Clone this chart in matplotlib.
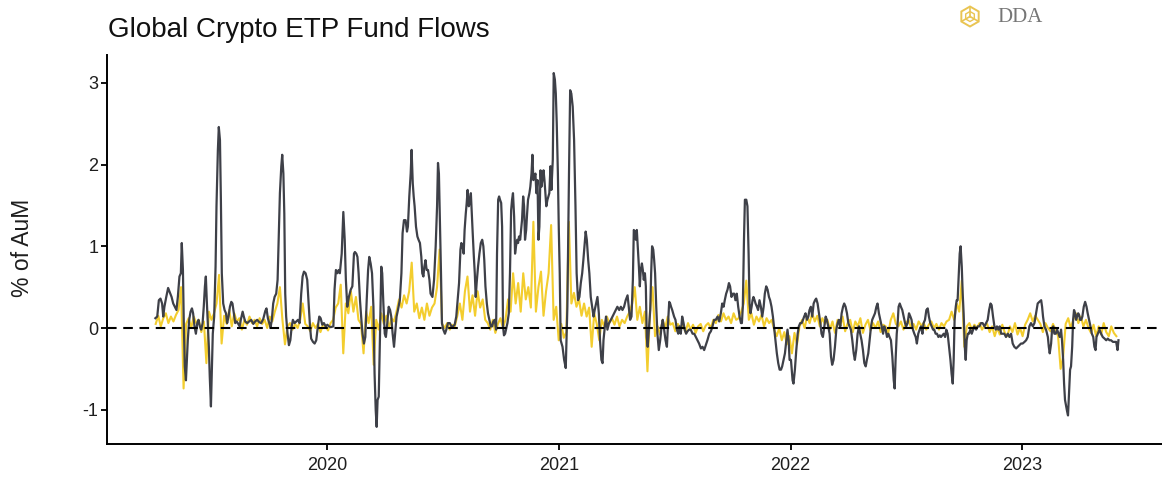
import numpy as np
import pandas as pd
import matplotlib
matplotlib.use("Agg")
import matplotlib.pyplot as plt
import matplotlib.dates as mdates
from matplotlib.patches import RegularPolygon
from matplotlib.lines import Line2D

plt.rcParams['font.family'] = ['Liberation Sans', 'DejaVu Sans']

# ---------------- data ----------------
title = "Global Crypto ETP Fund Flows"
y_label = "% of AuM"
y_ticks = [-1, 0, 1, 2, 3]

# rolling flows (dark line): decimal year, % of AuM
gray_years = [
    2019.256, 2019.264, 2019.271, 2019.278, 2019.285, 2019.290, 2019.295, 2019.303, 2019.311, 2019.318,
    2019.326, 2019.333, 2019.340, 2019.347, 2019.353, 2019.360, 2019.366, 2019.370, 2019.375, 2019.379,
    2019.383, 2019.388, 2019.392, 2019.396, 2019.402, 2019.408, 2019.414, 2019.419, 2019.425, 2019.431,
    2019.437, 2019.442, 2019.448, 2019.454, 2019.460, 2019.465, 2019.470, 2019.474, 2019.478, 2019.483,
    2019.487, 2019.491, 2019.496, 2019.500, 2019.504, 2019.510, 2019.516, 2019.520, 2019.526, 2019.530,
    2019.535, 2019.539, 2019.543, 2019.549, 2019.555, 2019.561, 2019.566, 2019.572, 2019.578, 2019.584,
    2019.589, 2019.595, 2019.601, 2019.607, 2019.612, 2019.620, 2019.625, 2019.633, 2019.638, 2019.644,
    2019.653, 2019.661, 2019.670, 2019.679, 2019.687, 2019.696, 2019.705, 2019.713, 2019.722, 2019.731,
    2019.736, 2019.742, 2019.748, 2019.754, 2019.759, 2019.765, 2019.771, 2019.778, 2019.784, 2019.790,
    2019.794, 2019.800, 2019.804, 2019.809, 2019.813, 2019.817, 2019.821, 2019.827, 2019.833, 2019.839,
    2019.845, 2019.850, 2019.857, 2019.865, 2019.872, 2019.879, 2019.886, 2019.892, 2019.898, 2019.905,
    2019.912, 2019.918, 2019.924, 2019.929, 2019.937, 2019.944, 2019.951, 2019.958, 2019.964, 2019.970,
    2019.977, 2019.984, 2019.992, 2019.999, 2020.006,
    2020.013, 2020.025, 2020.030, 2020.036, 2020.042, 2020.048, 2020.053, 2020.061, 2020.068, 2020.074,
    2020.079, 2020.085, 2020.092, 2020.100, 2020.107, 2020.114, 2020.118, 2020.124, 2020.129, 2020.134,
    2020.140, 2020.146, 2020.151, 2020.157, 2020.163, 2020.169, 2020.175, 2020.180, 2020.186, 2020.192,
    2020.198, 2020.203, 2020.208, 2020.212, 2020.216, 2020.221, 2020.226, 2020.232, 2020.236, 2020.241,
    2020.247, 2020.252, 2020.258, 2020.264, 2020.270, 2020.275, 2020.281, 2020.287, 2020.293, 2020.298,
    2020.304, 2020.312, 2020.319, 2020.324, 2020.330, 2020.337, 2020.343, 2020.347, 2020.353, 2020.359,
    2020.363, 2020.368, 2020.372, 2020.376, 2020.382, 2020.388, 2020.393, 2020.399, 2020.405, 2020.409,
    2020.414, 2020.418, 2020.423, 2020.428, 2020.434, 2020.440, 2020.445, 2020.453, 2020.460, 2020.467,
    2020.473, 2020.477, 2020.481, 2020.485, 2020.490, 2020.494, 2020.500, 2020.507, 2020.513, 2020.520,
    2020.528, 2020.535, 2020.542, 2020.549, 2020.556, 2020.562, 2020.568, 2020.574, 2020.578, 2020.584,
    2020.588, 2020.592, 2020.597, 2020.601, 2020.605, 2020.610, 2020.614, 2020.619, 2020.623, 2020.627,
    2020.632, 2020.636, 2020.640, 2020.644, 2020.650, 2020.656, 2020.662, 2020.668, 2020.673, 2020.677,
    2020.682, 2020.688, 2020.693, 2020.699, 2020.705, 2020.711, 2020.716, 2020.722, 2020.728, 2020.732,
    2020.737, 2020.741, 2020.745, 2020.750, 2020.754, 2020.758, 2020.762, 2020.767, 2020.771, 2020.777,
    2020.783, 2020.788, 2020.793, 2020.797, 2020.801, 2020.806, 2020.810, 2020.814, 2020.819, 2020.823,
    2020.827, 2020.832, 2020.836, 2020.840, 2020.845, 2020.849, 2020.853, 2020.858, 2020.862, 2020.866,
    2020.872, 2020.876, 2020.881, 2020.885, 2020.889, 2020.894, 2020.898, 2020.902, 2020.907, 2020.911,
    2020.915, 2020.920, 2020.924, 2020.928, 2020.933, 2020.937, 2020.941, 2020.945, 2020.950, 2020.954,
    2020.958, 2020.963, 2020.967, 2020.973, 2020.977, 2020.982, 2020.986, 2020.990, 2020.995, 2020.999,
    2021.003,
    2021.007, 2021.015, 2021.022, 2021.029, 2021.036, 2021.043, 2021.048, 2021.053, 2021.059, 2021.065,
    2021.071, 2021.076, 2021.082, 2021.088, 2021.094, 2021.100, 2021.105, 2021.111, 2021.115, 2021.120,
    2021.126, 2021.131, 2021.137, 2021.143, 2021.149, 2021.154, 2021.160, 2021.166, 2021.172, 2021.177,
    2021.183, 2021.188, 2021.192, 2021.198, 2021.203, 2021.209, 2021.216, 2021.224, 2021.231, 2021.238,
    2021.245, 2021.252, 2021.260, 2021.267, 2021.274, 2021.281, 2021.288, 2021.296, 2021.301, 2021.307,
    2021.313, 2021.319, 2021.323, 2021.327, 2021.332, 2021.336, 2021.340, 2021.345, 2021.349, 2021.353,
    2021.358, 2021.362, 2021.366, 2021.371, 2021.375, 2021.379, 2021.383, 2021.388, 2021.394, 2021.398,
    2021.402, 2021.407, 2021.411, 2021.415, 2021.420, 2021.425, 2021.431, 2021.437, 2021.443, 2021.448,
    2021.454, 2021.460, 2021.466, 2021.471, 2021.476, 2021.480, 2021.484, 2021.489, 2021.493, 2021.497,
    2021.503, 2021.509, 2021.515, 2021.520, 2021.526, 2021.532, 2021.538, 2021.543, 2021.549, 2021.555,
    2021.562, 2021.569, 2021.577, 2021.584, 2021.591, 2021.598, 2021.605, 2021.613, 2021.620, 2021.627,
    2021.634, 2021.641, 2021.649, 2021.656, 2021.663, 2021.670, 2021.677, 2021.685, 2021.692, 2021.699,
    2021.705, 2021.711, 2021.716, 2021.722, 2021.728, 2021.734, 2021.739, 2021.745, 2021.751, 2021.757,
    2021.762, 2021.768, 2021.774, 2021.780, 2021.786, 2021.790, 2021.794, 2021.799, 2021.803, 2021.809,
    2021.814, 2021.819, 2021.823, 2021.827, 2021.832, 2021.836, 2021.840, 2021.845, 2021.849, 2021.855,
    2021.860, 2021.866, 2021.872, 2021.878, 2021.884, 2021.889, 2021.895, 2021.901, 2021.907, 2021.912,
    2021.918, 2021.924, 2021.930, 2021.935, 2021.941, 2021.947, 2021.953, 2021.959, 2021.964, 2021.970,
    2021.976, 2021.982, 2021.987, 2021.992, 2021.996,
    2022.002, 2022.009, 2022.013, 2022.019, 2022.025, 2022.031, 2022.036, 2022.042, 2022.048, 2022.054,
    2022.059, 2022.065, 2022.071, 2022.077, 2022.082, 2022.088, 2022.094, 2022.100, 2022.106, 2022.111,
    2022.117, 2022.123, 2022.129, 2022.134, 2022.140, 2022.146, 2022.152, 2022.157, 2022.163, 2022.169,
    2022.175, 2022.180, 2022.186, 2022.192, 2022.198, 2022.204, 2022.209, 2022.215, 2022.221, 2022.227,
    2022.232, 2022.238, 2022.244, 2022.250, 2022.255, 2022.261, 2022.267, 2022.273, 2022.278, 2022.284,
    2022.290, 2022.296, 2022.301, 2022.307, 2022.313, 2022.319, 2022.325, 2022.330, 2022.336, 2022.342,
    2022.348, 2022.353, 2022.359, 2022.365, 2022.371, 2022.376, 2022.382, 2022.388, 2022.394, 2022.400,
    2022.405, 2022.411, 2022.417, 2022.423, 2022.428, 2022.434, 2022.440, 2022.446, 2022.450, 2022.454,
    2022.459, 2022.463, 2022.467, 2022.472, 2022.477, 2022.483, 2022.489, 2022.495, 2022.500, 2022.506,
    2022.512, 2022.518, 2022.523, 2022.529, 2022.535, 2022.541, 2022.546, 2022.552, 2022.558, 2022.564,
    2022.570, 2022.575, 2022.581, 2022.587, 2022.593, 2022.598, 2022.604, 2022.610, 2022.616, 2022.621,
    2022.627, 2022.633, 2022.639, 2022.645, 2022.650, 2022.656, 2022.662, 2022.668, 2022.673, 2022.679,
    2022.685, 2022.691, 2022.696, 2022.701, 2022.705, 2022.709, 2022.714, 2022.718, 2022.722, 2022.727,
    2022.731, 2022.735, 2022.740, 2022.744, 2022.748, 2022.753, 2022.757, 2022.761, 2022.766, 2022.771,
    2022.777, 2022.783, 2022.789, 2022.794, 2022.802, 2022.809, 2022.816, 2022.823, 2022.830, 2022.838,
    2022.845, 2022.852, 2022.858, 2022.864, 2022.869, 2022.875, 2022.881, 2022.887, 2022.892, 2022.898,
    2022.904,
    2022.910, 2022.924, 2022.931, 2022.939, 2022.946, 2022.953, 2022.960, 2022.967, 2022.975, 2022.982,
    2022.989, 2022.996, 2023.003, 2023.011, 2023.018, 2023.025, 2023.032, 2023.039, 2023.047, 2023.054,
    2023.061, 2023.068, 2023.075, 2023.083, 2023.087, 2023.091, 2023.097, 2023.104, 2023.112, 2023.116,
    2023.120, 2023.126, 2023.130, 2023.135, 2023.140, 2023.146, 2023.152, 2023.158, 2023.163, 2023.169,
    2023.173, 2023.178, 2023.182, 2023.186, 2023.191, 2023.195, 2023.199, 2023.204, 2023.208, 2023.212,
    2023.217, 2023.221, 2023.225, 2023.230, 2023.234, 2023.238, 2023.243, 2023.247, 2023.251, 2023.256,
    2023.261, 2023.267, 2023.273, 2023.279, 2023.284, 2023.290, 2023.296, 2023.302, 2023.308, 2023.313,
    2023.318, 2023.322, 2023.328, 2023.335, 2023.342, 2023.349, 2023.357, 2023.364, 2023.371, 2023.378,
    2023.385, 2023.393, 2023.400, 2023.407, 2023.413, 2023.417,
]
gray_values = [
    0.12, 0.14, 0.34, 0.36, 0.30, 0.14, 0.26, 0.38, 0.49, 0.44,
    0.38, 0.30, 0.26, 0.22, 0.38, 0.63, 0.67, 1.04, 0.71, 0.02,
    -0.47, -0.64, -0.39, -0.15, 0.10, 0.20, 0.24, 0.18, 0.02, -0.07,
    0.06, 0.10, 0.02, -0.02, 0.06, 0.26, 0.51, 0.63, 0.34, 0.02,
    -0.23, -0.60, -0.96, -0.51, -0.07, 0.14, 0.75, 1.49, 2.18, 2.46,
    2.30, 1.57, 0.67, 0.30, 0.22, 0.18, 0.06, 0.14, 0.26, 0.32,
    0.30, 0.18, 0.06, 0.08, 0.06, 0.02, 0.10, 0.20, 0.14, 0.08,
    0.06, 0.08, 0.10, 0.05, 0.08, 0.10, 0.07, 0.06, 0.11, 0.21,
    0.24, 0.12, 0.06, 0.01, 0.10, 0.30, 0.38, 0.42, 0.59, 1.24,
    1.65, 1.98, 2.12, 1.89, 1.40, 0.42, 0.14, -0.07, -0.21, -0.15,
    0.02, 0.10, 0.06, 0.08, 0.10, 0.06, 0.42, 0.63, 0.69, 0.67,
    0.59, 0.30, 0.02, -0.13, -0.17, -0.19, -0.15, 0.02, 0.14, 0.12,
    0.04, 0.06, 0.02, 0.04, 0.02,
    0.01, 0.02, 0.47, 0.71, 0.67, 0.71, 0.67, 0.91, 1.42, 1.08,
    0.59, 0.26, 0.38, 0.47, 0.51, 0.91, 0.93, 0.91, 0.87, 0.67,
    0.34, 0.10, -0.07, -0.19, -0.11, 0.34, 0.71, 0.87, 0.79, 0.67,
    0.26, -0.56, -1.01, -1.21, -0.88, -0.84, -0.15, 0.75, 0.67, 0.30,
    -0.07, -0.11, 0.06, 0.26, 0.22, 0.14, -0.07, -0.23, -0.02, 0.14,
    0.22, 0.34, 0.67, 1.16, 1.32, 1.32, 1.18, 1.24, 1.61, 1.89,
    2.18, 1.77, 1.61, 1.49, 1.24, 1.12, 1.08, 1.04, 0.87, 0.67,
    0.63, 0.75, 0.83, 0.71, 0.71, 0.59, 0.42, 0.38, 0.59, 1.00,
    1.49, 2.02, 1.89, 1.36, 0.67, 0.06, -0.02, -0.07, -0.02, 0.06,
    0.06, 0.02, 0.02, 0.04, 0.14, 0.34, 0.55, 0.96, 1.04, 0.98,
    0.91, 1.20, 1.40, 1.53, 1.69, 1.49, 1.53, 1.65, 1.40, 1.16,
    0.87, 0.67, 0.38, 0.55, 0.75, 0.91, 1.04, 1.08, 1.00, 0.83,
    0.51, 0.30, 0.18, 0.10, 0.02, 0.02, 0.08, 0.10, -0.02, 0.91,
    1.57, 1.61, 1.57, 1.53, 1.24, 0.02, -0.09, -0.07, -0.02, 0.06,
    0.18, 0.67, 1.44, 1.57, 1.65, 1.36, 0.91, 1.00, 1.08, 1.04,
    1.12, 1.08, 1.20, 1.32, 1.61, 1.49, 1.08, 1.20, 1.40, 1.57,
    1.65, 1.73, 1.89, 2.12, 1.81, 1.85, 1.89, 1.65, 1.81, 1.08,
    1.24, 1.93, 1.73, 1.81, 1.93, 1.81, 1.65, 1.49, 1.57, 1.61,
    1.65, 1.98, 1.69, 2.06, 3.12, 3.04, 2.87, 2.51, 1.89, 1.20,
    0.67,
    -0.15, -0.23, -0.39, -0.49, 0.26, 1.89, 2.91, 2.87, 2.71, 2.30,
    1.49, 0.67, 0.34, 0.38, 0.55, 0.67, 0.83, 1.04, 1.18, 1.08,
    0.83, 0.67, 0.38, 0.26, 0.14, 0.22, 0.30, 0.38, 0.18, -0.15,
    -0.39, -0.43, -0.15, 0.02, 0.14, -0.02, 0.06, 0.10, 0.14, 0.18,
    0.22, 0.26, 0.22, 0.26, 0.22, 0.26, 0.34, 0.40, 0.26, 0.10,
    0.14, 0.59, 1.20, 1.18, 1.08, 1.20, 1.00, 0.75, 0.51, 0.71,
    0.79, 0.71, 0.59, 0.67, 0.51, -0.11, -0.23, -0.02, 0.22, 0.67,
    1.00, 0.96, 0.83, 0.67, 0.26, -0.07, -0.27, -0.15, 0.02, 0.10,
    -0.02, -0.15, -0.23, 0.06, 0.32, 0.30, 0.26, 0.22, 0.18, 0.14,
    0.10, -0.02, -0.07, 0.02, -0.07, 0.14, 0.06, -0.02, -0.07, -0.04,
    -0.02, -0.02, -0.07, -0.07, -0.11, -0.15, -0.19, -0.25, -0.23, -0.27,
    -0.21, -0.15, -0.07, -0.04, 0.02, 0.10, 0.10, 0.14, 0.08, 0.18,
    0.30, 0.26, 0.34, 0.42, 0.47, 0.55, 0.51, 0.38, 0.42, 0.42,
    0.34, 0.42, 0.26, 0.14, 0.06, 0.06, 0.26, 1.08, 1.57, 1.57,
    1.49, 0.91, 0.30, 0.18, 0.26, 0.34, 0.38, 0.34, 0.30, 0.26,
    0.22, 0.34, 0.26, 0.14, 0.26, 0.42, 0.51, 0.47, 0.38, 0.34,
    0.26, 0.14, -0.02, -0.15, -0.31, -0.43, -0.51, -0.51, -0.47, -0.39,
    -0.31, -0.15, -0.02, -0.15, -0.39,
    -0.39, -0.64, -0.68, -0.51, -0.27, -0.07, 0.02, 0.06, 0.06, 0.10,
    0.14, 0.18, 0.10, 0.14, 0.22, 0.26, 0.14, 0.30, 0.34, 0.36,
    0.30, 0.18, 0.06, -0.07, -0.11, 0.02, 0.14, 0.10, 0.02, -0.07,
    -0.35, -0.45, -0.39, -0.23, -0.02, 0.06, 0.10, 0.02, 0.18, 0.26,
    0.30, 0.26, 0.18, 0.06, 0.02, -0.02, -0.15, -0.31, -0.39, -0.27,
    -0.07, 0.02, -0.07, -0.15, -0.27, -0.43, -0.47, -0.39, -0.31, -0.15,
    0.02, 0.10, 0.14, 0.18, 0.26, 0.30, 0.18, 0.10, 0.02, -0.07,
    0.02, -0.02, -0.11, -0.07, -0.11, -0.15, -0.35, -0.64, -0.74, -0.39,
    -0.07, 0.06, 0.26, 0.30, 0.26, 0.22, 0.14, 0.06, 0.02, 0.06,
    0.18, 0.14, 0.10, -0.02, -0.07, -0.11, -0.19, -0.07, -0.02, 0.02,
    -0.07, 0.06, 0.10, 0.22, 0.24, 0.14, 0.06, 0.02, -0.02, -0.02,
    -0.07, -0.07, -0.11, -0.09, -0.11, -0.09, -0.07, -0.11, -0.02, -0.07,
    -0.23, -0.39, -0.56, -0.68, -0.39, 0.10, 0.26, 0.34, 0.34, 0.67,
    0.91, 1.00, 0.75, 0.42, 0.18, -0.23, -0.39, -0.15, -0.07, -0.07,
    -0.02, -0.07, -0.02, 0.02, -0.02, 0.02, 0.02, 0.06, 0.06, 0.02,
    0.06, 0.10, 0.22, 0.30, 0.28, 0.14, 0.02, -0.02, 0.02, -0.02,
    0.02,
    -0.07, -0.07, -0.11, -0.07, -0.11, -0.07, -0.19, -0.23, -0.25, -0.23,
    -0.21, -0.19, -0.19, -0.17, -0.15, -0.11, 0.02, 0.06, 0.02, 0.06,
    0.18, 0.30, 0.32, 0.34, 0.26, 0.14, 0.02, -0.02, -0.11, -0.23,
    -0.31, -0.19, -0.02, 0.02, -0.07, -0.07, -0.02, -0.07, -0.11, -0.02,
    -0.15, -0.39, -0.68, -0.88, -0.96, -1.02, -1.07, -0.76, -0.51, -0.47,
    -0.23, 0.10, 0.22, 0.18, 0.10, 0.14, 0.18, 0.16, 0.10, 0.10,
    0.14, 0.26, 0.32, 0.26, 0.18, 0.10, 0.02, -0.07, -0.11, -0.23,
    -0.27, -0.11, -0.07, -0.02, -0.07, -0.11, -0.13, -0.15, -0.13, -0.15,
    -0.15, -0.17, -0.17, -0.17, -0.27, -0.15,
]

# daily flows (yellow), one reading every 4 days from the first date
yellow_start = "2019-04-05"
yellow_step = "4D"
yellow_values = [
    0.05, 0.15, 0.02, 0.12, 0.18, 0.06, 0.14, 0.08, 0.16, 0.22,
    0.50, -0.74, 0.05, 0.12, 0.00, 0.14, 0.06, 0.10, -0.05, 0.08,
    -0.43, 0.20, 0.10, 0.18, 0.30, 0.65, -0.19, 0.15, 0.05, 0.22,
    0.02, 0.18, 0.08, 0.12, -0.02, 0.10, 0.04, 0.14, 0.06, 0.10,
    0.02, 0.12, 0.05, 0.10, 0.00, 0.14, 0.08, 0.20, 0.30, 0.50,
    0.10, -0.20, 0.02, 0.06, -0.02, 0.05, 0.00, 0.10, 0.30, 0.05,
    0.02, -0.04, 0.06, 0.00, 0.05, -0.05, 0.04, 0.02, -0.03, 0.06,
    0.10, 0.25, 0.30, 0.53, -0.31, 0.30, 0.18, 0.45, 0.20, 0.38,
    0.10, 0.05, -0.31, 0.20, 0.06, 0.26, -0.45, 0.10, -0.02, 0.18,
    0.05, 0.15, 0.00, 0.12, 0.08, 0.20, 0.35, 0.25, 0.40, 0.30,
    0.45, 0.80, 0.20, 0.30, 0.12, 0.25, 0.10, 0.30, 0.15, 0.25,
    0.30, 0.50, 0.96, 0.05, 0.00, 0.06, -0.02, 0.04, 0.02, 0.15,
    0.30, 0.10, 0.45, 0.63, 0.20, 0.40, 0.15, 0.45, 0.25, 0.35,
    0.10, 0.06, -0.02, 0.10, -0.06, 0.05, 0.12, 0.00, 0.10, 0.35,
    0.20, 0.67, 0.30, 0.55, 0.20, 0.67, 0.35, 0.50, 0.25, 1.30,
    0.20, 0.50, 0.69, 0.15, 0.45, 0.67, 1.26, 0.10, 0.26, -0.15,
    0.05, -0.12, -0.05, 1.30, 0.30, 0.43, 0.26, 0.35, 0.15, 0.30,
    0.14, 0.25, -0.23, 0.18, 0.05, -0.15, 0.10, 0.02, 0.14, 0.06,
    0.12, 0.04, 0.14, 0.02, 0.10, 0.06, 0.14, 0.20, 0.30, 0.50,
    0.10, 0.26, 0.06, 0.20, -0.53, 0.20, 0.50, -0.10, 0.02, -0.08,
    0.10, 0.00, 0.14, 0.04, 0.06, -0.04, 0.05, 0.00, 0.04, -0.05,
    0.06, -0.02, 0.04, -0.06, 0.02, 0.05, -0.04, 0.03, 0.06, 0.00,
    0.10, 0.06, 0.16, 0.08, 0.18, 0.10, 0.14, 0.06, 0.18, 0.10,
    0.12, 0.20, 0.30, 0.58, 0.10, 0.18, 0.04, 0.14, 0.08, 0.16,
    0.02, 0.12, 0.06, 0.10, -0.02, -0.10, 0.00, -0.15, -0.05, -0.20,
    -0.10, -0.31, -0.06, -0.20, 0.02, 0.10, 0.00, 0.14, 0.06, 0.18,
    0.08, 0.15, 0.02, 0.12, 0.05, 0.10, -0.02, 0.08, -0.06, 0.10,
    0.02, 0.14, -0.04, 0.06, 0.10, -0.05, 0.08, 0.02, 0.12, -0.06,
    0.04, 0.10, -0.03, 0.06, 0.00, 0.08, -0.05, 0.04, 0.02, -0.06,
    0.10, 0.18, 0.05, 0.02, 0.08, -0.02, 0.06, 0.10, 0.00, 0.05,
    -0.02, 0.08, 0.03, 0.06, -0.02, 0.04, 0.08, 0.00, 0.05, -0.02,
    0.06, 0.02, 0.08, 0.10, 0.20, 0.10, 0.30, 0.20, 0.58, -0.23,
    0.02, 0.06, -0.02, 0.04, 0.00, 0.06, -0.02, 0.03, 0.05, -0.05,
    0.02, -0.10, 0.00, -0.08, 0.04, -0.06, -0.10, 0.02, -0.05, 0.06,
    -0.08, 0.00, -0.10, 0.04, 0.10, 0.18, 0.08, 0.15, 0.10, 0.05,
    -0.05, 0.06, 0.00, -0.04, 0.05, -0.02, -0.10, -0.50, -0.35, 0.05,
    0.12, 0.00, 0.10, 0.18, 0.06, 0.14, 0.02, 0.10, 0.00, -0.06,
    0.04, -0.10, 0.02, -0.08, 0.06, -0.05, -0.10, 0.02, -0.06, -0.10,
]

x_range = ("2019-01-18", "2023-08-10")
y_range = (-1.42, 3.34)

# ---------------- drawing ----------------
def years_to_dates(years):
    base = pd.Timestamp("2019-01-01")
    return base + pd.to_timedelta((np.asarray(years) - 2019.0) * 365.25, unit="D")

gray_dates = years_to_dates(gray_years)
yellow_dates = pd.date_range(yellow_start, periods=len(yellow_values), freq=yellow_step)

fig = plt.figure(figsize=(11.62, 4.79), dpi=100)
ax = fig.add_axes([0.092, 0.073, 0.908, 0.812])

ax.plot(yellow_dates, yellow_values, color="#f3cd2e", lw=1.5, zorder=2)
ax.plot(gray_dates, gray_values, color="#3e4048", lw=1.6, zorder=3)
ax.axhline(0, color="black", lw=1.5, dashes=(4.6, 3.2), zorder=4)

ax.set_xlim(pd.Timestamp(x_range[0]), pd.Timestamp(x_range[1]))
ax.set_ylim(*y_range)
ax.set_yticks(y_ticks)
ax.set_yticklabels([str(t) for t in y_ticks])
ax.xaxis.set_major_locator(mdates.YearLocator())
ax.xaxis.set_major_formatter(mdates.DateFormatter("%Y"))

for side in ("top", "right"):
    ax.spines[side].set_visible(False)
for side in ("left", "bottom"):
    ax.spines[side].set_linewidth(1.4)
    ax.spines[side].set_color("black")

ax.tick_params(axis="both", length=4, width=1.3, color="black", labelcolor="#1e1e1e", labelsize=13)
ax.tick_params(axis="x", pad=5)
ax.tick_params(axis="y", pad=2)

fig.text(0.093, 0.937, title, fontsize=20, ha="left", va="center", color="#111111")
fig.text(0.019, 0.482, y_label, rotation=90, fontsize=16.5, ha="center", va="center", color="#1e1e1e")

# logo (top right)
tr = fig.dpi_scale_trans
cx, cy, r = 9.70, 4.79 - 0.165, 0.10
gold = "#e9c452"
fig.patches.append(RegularPolygon((cx, cy), numVertices=6, radius=r, orientation=0,
                                  fill=False, edgecolor=gold, lw=1.4, transform=tr))
for ang in (90, 210, 330):
    a = np.deg2rad(ang)
    fig.lines.append(Line2D([cx, cx + r * 0.87 * np.cos(a)], [cy, cy + r * 0.87 * np.sin(a)],
                            color=gold, lw=1.2, transform=tr))
fig.patches.append(RegularPolygon((cx, cy), numVertices=6, radius=r * 0.5, orientation=0,
                                  fill=False, edgecolor=gold, lw=1.0, transform=tr))
fig.text(0.858, 0.9645, "DDA", fontsize=15, family=["Liberation Serif", "DejaVu Serif"],
         color="#767676", ha="left", va="center")

fig.savefig("out.png", dpi=100)
